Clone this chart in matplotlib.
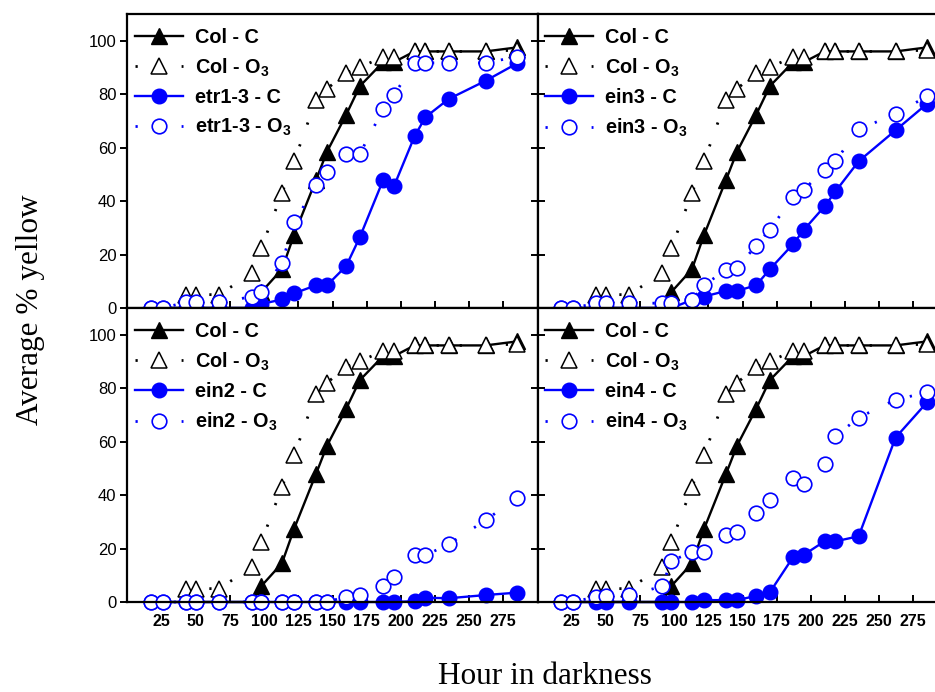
import matplotlib
matplotlib.use('Agg')
import matplotlib.pyplot as plt

plt.rcParams['font.family'] = ['Liberation Sans', 'DejaVu Sans']
plt.rcParams['mathtext.fontset'] = 'custom'
plt.rcParams['mathtext.rm'] = 'Liberation Sans'
plt.rcParams['mathtext.bf'] = 'Liberation Sans:bold'

hours = [17, 26, 43, 50, 67, 91, 98, 113, 122, 138, 146, 160, 170, 187, 195, 210, 218, 235, 262, 285]
col_c = [0, 0, 0, 0, 0, 0, 6, 14.5, 27.5, 48, 58.5, 72.3, 83, 92, 92, 96, 96, 96, 96, 97.5]
col_o3 = [0, 0, 5, 5, 5, 13, 22.5, 43, 55, 78, 82, 88, 90, 94, 94, 96, 96, 96, 96, 96.5]

etr1_c = [0, 0, 0, 0, 0, 0, 1.5, 3.2, 5.5, 8.5, 8.5, 15.7, 26.5, 47.8, 45.6, 64.2, 71.4, 78.2, 85, 91.5]
etr1_o3 = [0, 0, 2.2, 2.2, 2.2, 4.2, 6, 17, 32, 46, 51, 57.7, 57.7, 74.3, 79.7, 91.7, 91.7, 91.7, 91.7, 94]

ein3_c = [0, 0, 0, 0, 0, 0, 0, 3, 4.3, 6.4, 6.4, 8.5, 14.5, 23.9, 29.3, 38, 43.6, 54.9, 66.5, 76.4]
ein3_o3 = [0, 0, 1.8, 1.8, 1.8, 1.8, 1.8, 3, 8.6, 14.3, 15.1, 23.3, 29.3, 41.4, 44.3, 51.8, 54.9, 67, 72.4, 79.3]

ein2_c = [0, 0, 0, 0, 0, 0, 0, 0, 0, 0, 0, 0, 0, 0, 0, 0.3, 1.6, 1.4, 2.6, 3.5]
ein2_o3 = [0, 0, 0, 0, 0, 0, 0, 0, 0, 0, 0, 2, 2.6, 6, 9.2, 17.5, 17.5, 21.6, 30.6, 39]

ein4_c = [0, 0, 0, 0, 0, 0, 0, 0, 0.7, 0.7, 0.7, 2.3, 3.6, 16.8, 17.7, 22.7, 22.7, 24.6, 61.5, 74.7]
ein4_o3 = [0, 0, 2, 2.3, 2.6, 5.8, 15.4, 18.7, 18.7, 25, 26.2, 33.3, 38.3, 46.5, 44.2, 51.8, 62, 69, 75.7, 78.4]

panels = [
    ('etr1-3', etr1_c, etr1_o3),
    ('ein3', ein3_c, ein3_o3),
    ('ein2', ein2_c, ein2_o3),
    ('ein4', ein4_c, ein4_o3),
]
xticks = [25, 50, 75, 100, 125, 150, 175, 200, 225, 250, 275]
yticks = [0, 20, 40, 60, 80, 100]

W, H = 935, 692
fig = plt.figure(figsize=(W / 100, H / 100), dpi=100)

pw, ph = 410, 294
lefts = [127.5, 537.5]
tops = [14, 308]
positions = [(lefts[0], tops[0]), (lefts[1], tops[0]), (lefts[0], tops[1]), (lefts[1], tops[1])]

blue = '#0000ff'
dots = (0, (0.8, 7.5))
n = len(hours)

for i, ((name, mc, mo), (lx, ty)) in enumerate(zip(panels, positions)):
    ax = fig.add_axes([lx / W, (H - ty - ph) / H, pw / W, ph / H])
    ax.set_zorder(1 + (i // 2))
    ax.set_facecolor('white')
    ax.plot(hours, col_c, color='black', lw=1.7, marker='^', ms=11,
            markevery=list(range(6, n)),
            mfc='black', mec='black', clip_on=False, label='Col - C')
    ax.plot(hours[2:], col_o3[2:], color='black', lw=2.0, linestyle=dots, marker='^', ms=11,
            mfc='white', mec='black', mew=1.1, clip_on=False, label=r'Col - O$_\mathbf{3}$')
    ax.plot(hours, mc, color=blue, lw=1.7, marker='o', ms=10.5,
            mfc=blue, mec=blue, clip_on=False, label=name + ' - C')
    ax.plot(hours, mo, color=blue, lw=2.0, linestyle=dots, marker='o', ms=10.5,
            mfc='white', mec=blue, mew=1.2, clip_on=False, label=name + r' - O$_\mathbf{3}$')
    ax.set_xlim(0, 300)
    ax.set_ylim(0, 110)
    ax.set_xticks(xticks)
    ax.set_yticks(yticks)
    for s in ax.spines.values():
        s.set_linewidth(1.6)
    ax.tick_params(axis='x', direction='in', length=5, width=1.4, top=False,
                   labelsize=11.5, pad=9, labelbottom=(i >= 2))
    for lab in ax.get_xticklabels():
        lab.set_fontweight('bold')
    if i % 2 == 0:
        ax.tick_params(axis='y', direction='out', length=5, width=1.4, right=False,
                       labelsize=12, pad=3)
        tw = ax.twinx()
        tw.set_ylim(0, 110)
        tw.set_yticks(yticks)
        tw.tick_params(axis='y', direction='in', length=5, width=1.4, labelright=False)
        for s in tw.spines.values():
            s.set_visible(False)
    else:
        ax.tick_params(axis='y', direction='in', length=5, width=1.4, right=True,
                       labelleft=False)
    leg = ax.legend(loc='upper left', bbox_to_anchor=(0.0, 0.98), frameon=False,
                    prop={'weight': 'bold', 'size': 14.3}, handlelength=2.4,
                    handletextpad=0.6, labelspacing=0.48, borderaxespad=0.1,
                    borderpad=0.3)

fig.text(0.033, 0.552, 'Average % yellow', rotation=90, ha='center', va='center',
         family='Liberation Serif', fontsize=22.5)
fig.text(0.583, 0.022, 'Hour in darkness', ha='center', va='center',
         family='Liberation Serif', fontsize=22.5)

fig.savefig('out.png', dpi=100)
